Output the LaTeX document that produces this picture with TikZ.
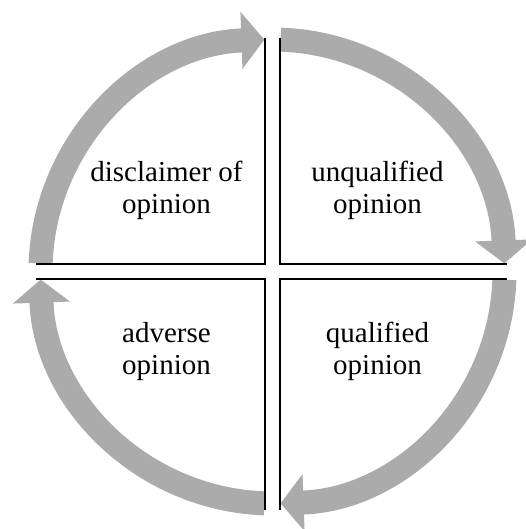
\documentclass[tikz,border=0pt]{standalone}
\usepackage{fontspec}
\setmainfont{Liberation Serif}
\usetikzlibrary{arrows.meta,calc}
\definecolor{bandgray}{RGB}{171,171,171}

\begin{document}
\begin{tikzpicture}[x=1pt,y=1pt,
    quadtext/.style={align=center,font=\fontsize{29}{32}\selectfont},
    band/.style={bandgray,line width=24pt,-{Triangle[length=23pt,width=56pt]}},
    frame/.style={black,line width=2.2pt}]
  \useasboundingbox (0,0) rectangle (525,529);
  \coordinate (c) at (272.5,257.5);
  % the four arrows going round clockwise
  \foreach \a in {180,90,0,-90}
    \draw[band] ($(c)+(\a-2:232)$) arc[start angle=\a-2,end angle=\a-88,radius=232];
  % inner edges of the quadrants
  \draw[frame] (265,491) -- (265,265) -- (36,265);
  \draw[frame] (280,491) -- (280,265) -- (507,265);
  \draw[frame] (265,19) -- (265,250) -- (36,250);
  \draw[frame] (280,19) -- (280,250) -- (507,250);
  \node[quadtext] (disclaimer) at ($(c)+(-106,81)$) {disclaimer of\\opinion};
  \node[quadtext] (unqualified) at ($(c)+(105,81)$) {unqualified\\opinion};
  \node[quadtext] (qualified) at ($(c)+(105,-80)$) {qualified\\opinion};
  \node[quadtext] (adverse) at ($(c)+(-106,-80)$) {adverse\\opinion};
\end{tikzpicture}
\end{document}
